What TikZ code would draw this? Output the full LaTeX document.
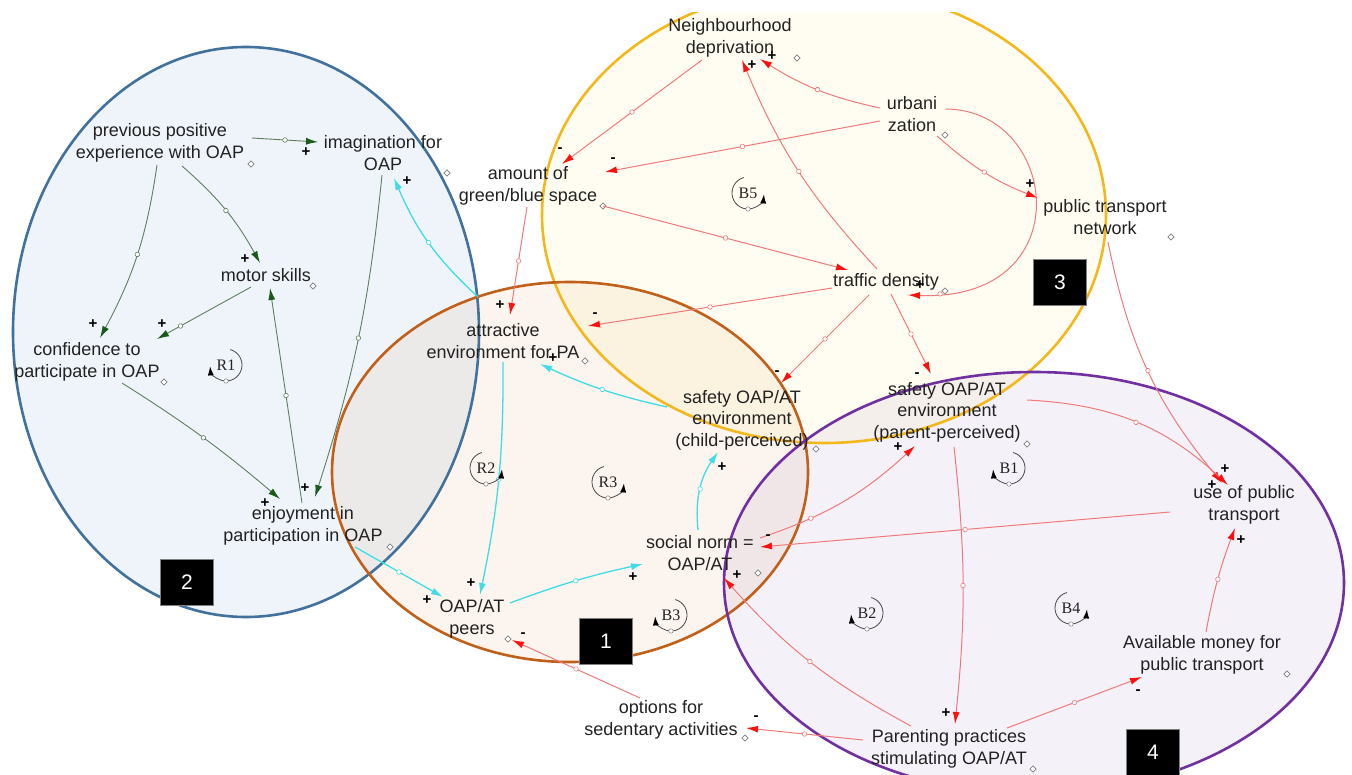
\documentclass[tikz,border=0pt]{standalone}
\usepackage{fontspec}
\setmainfont{Liberation Sans}
\newfontfamily\loopfont{Liberation Serif}
\usetikzlibrary{arrows.meta,shapes.geometric,decorations.markings}
\definecolor{txt}{HTML}{222222}
\definecolor{fillB}{HTML}{EFF4FA}
\definecolor{fillO}{HTML}{FCF4EE}
\definecolor{fillY}{HTML}{FFFDF1}
\definecolor{fillP}{HTML}{F4F1F8}
\definecolor{edgeB}{HTML}{41719C}
\definecolor{edgeO}{HTML}{C0601A}
\definecolor{edgeY}{HTML}{F2B81C}
\definecolor{edgeP}{HTML}{7030A0}
\definecolor{glink}{HTML}{5E7F5E}
\definecolor{ghead}{HTML}{1B5A1B}
\definecolor{clink}{HTML}{40DDE6}
\definecolor{rlink}{HTML}{F07A7A}
\definecolor{rhead}{HTML}{FF1010}
\newcommand\lpsym[4]{%
  \node[looplab] (#1) at (#2) {#3};
  \ifx r#4
    \draw[loopline] ([shift={(255:16)}]#1.center) arc[start angle=255,end angle=5,radius=16];
  \else
    \draw[loopline] ([shift={(285:16)}]#1.center) arc[start angle=285,end angle=535,radius=16];
  \fi
  \draw[gray, fill=white, line width=0.5pt] ([shift={(90:16)}]#1.center) circle (2.2pt);
}
\tikzset{
  var/.style={align=center, font=\fontsize{18}{21.5}\selectfont, text=txt, inner sep=1pt},
  sgn/.style={font=\fontsize{15}{15}\selectfont\bfseries, text=black, inner sep=0pt},
  dmd/.style={diamond, draw=gray, fill=white, inner sep=0pt, minimum size=6.5pt, line width=0.6pt},
  numbox/.style={fill=black, draw=gray, text=white, minimum width=53pt, minimum height=46pt, font=\fontsize{21}{21}\selectfont, inner sep=0pt},
  looplab/.style={font=\loopfont\fontsize{16}{16}\selectfont, text=txt, inner sep=0pt},
  loopline/.style={draw=black!70, line width=0.8pt, -{Latex[length=9pt,width=6pt,color=black]}},
  mkG/.style={postaction={decorate,decoration={markings,mark=at position #1 with {\draw[glink,fill=white,line width=0.6pt] (0,0) circle (2.3pt);}}}},
  mkG/.default=0.5,
  mkC/.style={postaction={decorate,decoration={markings,mark=at position #1 with {\draw[clink,fill=white,line width=0.6pt] (0,0) circle (2.3pt);}}}},
  mkC/.default=0.5,
  mkR/.style={postaction={decorate,decoration={markings,mark=at position #1 with {\draw[rlink,fill=white,line width=0.6pt] (0,0) circle (2.3pt);}}}},
  mkR/.default=0.5,
  grn/.style={draw=glink, line width=0.9pt, -{Latex[length=12pt,width=7pt,color=ghead]}},
  cyn/.style={draw=clink, line width=1.3pt, -{Latex[length=12pt,width=7pt,color=clink]}},
  red/.style={draw=rlink, line width=1pt, -{Latex[length=12pt,width=7pt,color=rhead]}},
}
\begin{document}
\begin{tikzpicture}[x=1pt,y=-1pt]
\useasboundingbox[fill=white] (0,0) rectangle (1352,775);
% ---------- regions ----------
\begin{scope}
  \clip (0,13) rectangle (1352,775);
  \begin{scope}[blend mode=multiply]
    \fill[fillB] (246,332) ellipse [x radius=233, y radius=285];
    \fill[fillY] (824,215) ellipse [x radius=282, y radius=228];
    \fill[fillO] (570,472) ellipse [x radius=238, y radius=190];
    \fill[fillP] (1034,583) ellipse [x radius=310, y radius=211];
  \end{scope}
  \draw[edgeB, line width=2.6pt] (246,332) ellipse [x radius=233, y radius=285];
  \draw[edgeY, line width=2.6pt] (824,215) ellipse [x radius=282, y radius=228];
  \draw[edgeO, line width=2.6pt] (570,472) ellipse [x radius=238, y radius=190];
  \draw[edgeP, line width=2.6pt] (1034,583) ellipse [x radius=310, y radius=211];
\end{scope}
% ---------- number boxes ----------
\node[numbox] (box1) at (606,641) {1};
\node[numbox] (box2) at (187,582) {2};
\node[numbox] (box3) at (1060,282) {3};
\node[numbox] (box4) at (1153,752) {4};
% ---------- variables ----------
\node[var] (prev) at (160,143) {previous positive\\experience with OAP};
\node[var] (imag) at (383,153) {imagination for\\OAP};
\node[var] (motor) at (266,275) {motor skills};
\node[var] (conf) at (87,362) {confidence to\\participate in OAP};
\node[var] (enjoy) at (303,526) {enjoyment in\\participation in OAP};
\node[var] (amount) at (528,186) {amount of\\green/blue space};
\node[var] (neigh) at (730,38) {Neighbourhood\\deprivation};
\node[var] (urban) at (912,114) {urbani\\zation};
\node[var] (ptn) at (1105,217) {public transport\\network};
\node[var] (traffic) at (886,282) {traffic density};
\node[var] (attr) at (503,341) {attractive\\environment for PA};
\node[var] (safec) at (742,420) {safety OAP/AT\\environment\\(child-perceived)};
\node[var] (safep) at (947,412) {safety OAP/AT\\environment\\(parent-perceived)};
\node[var] (usept) at (1244,505) {use of public\\transport};
\node[var] (social) at (700,553) {social norm =\\OAP/AT};
\node[var] (peers) at (472,619) {OAP/AT\\peers};
\node[var] (options) at (661,720) {options for\\sedentary activities};
\node[var] (parent) at (949,749) {Parenting practices\\stimulating OAP/AT};
\node[var] (money) at (1202,655) {Available money for\\public transport};
% ---------- small diamonds ----------
\node[dmd] (d1) at (251,164) {};
\node[dmd] (d2) at (447,173) {};
\node[dmd] (d3) at (313,286) {};
\node[dmd] (d4) at (164,382) {};
\node[dmd] (d5) at (390,547) {};
\node[dmd] (d6) at (603,206) {};
\node[dmd] (d7) at (797,58) {};
\node[dmd] (d8) at (945,135) {};
\node[dmd] (d9) at (1171,237) {};
\node[dmd] (d10) at (945,291) {};
\node[dmd] (d11) at (585,361) {};
\node[dmd] (d12) at (816,449) {};
\node[dmd] (d13) at (1027,444) {};
\node[dmd] (d14) at (758,573) {};
\node[dmd] (d15) at (508,639) {};
\node[dmd] (d16) at (745,738) {};
\node[dmd] (d17) at (1033,769) {};
\node[dmd] (d18) at (1287,674) {};
% ---------- green links ----------
\draw[grn, mkG] ([shift={(92,-5)}]prev.center) -- ([shift={(-65,-11)}]imag.center);
\draw[grn, mkG] ([shift={(-3,22)}]prev.center) to[bend left=10] ([shift={(13,-24)}]conf.center);
\draw[grn, mkG] ([shift={(22,23)}]prev.center) to[bend left=10] ([shift={(-6,-12)}]motor.center);
\draw[grn, mkG=0.75] ([shift={(-15,12)}]motor.center) -- ([shift={(70,-23)}]conf.center);
\draw[grn, mkG] ([shift={(-1,-23)}]enjoy.center) -- ([shift={(4,13)}]motor.center);
\draw[grn, mkG] ([shift={(-1,22)}]imag.center) to[bend left=6] ([shift={(12,-29)}]enjoy.center);
\draw[grn, mkG] ([shift={(35,21)}]conf.center) to[bend left=4] ([shift={(-23,-27)}]enjoy.center);
% ---------- cyan links ----------
\draw[cyn, mkC] ([shift={(-25,-44)}]attr.center) to[bend left=12] ([shift={(11,25)}]imag.center);
\draw[cyn, mkC] ([shift={(0,21)}]attr.center) to[bend left=6] ([shift={(8,-24)}]peers.center);
\draw[cyn, mkC] ([shift={(52,21)}]enjoy.center) -- ([shift={(-29,-22)}]peers.center);
\draw[cyn, mkC] ([shift={(38,-16)}]peers.center) to[bend left=4] ([shift={(-57,11)}]social.center);
\draw[cyn, mkC] ([shift={(-2,-23)}]social.center) to[bend left=20] ([shift={(-24,32)}]safec.center);
\draw[cyn, mkC] ([shift={(-75,-13)}]safec.center) to[bend left=6] ([shift={(37,23)}]attr.center);
% ---------- red links ----------
\draw[red, mkR] ([shift={(-28,22)}]neigh.center) -- ([shift={(34,-22)}]amount.center);
\draw[red, mkR] ([shift={(-32,7)}]urban.center) -- ([shift={(77,-14)}]amount.center);
\draw[red, mkR] ([shift={(-32,-6)}]urban.center) to[bend left=10] ([shift={(30,21)}]neigh.center);
\draw[red, mkR] ([shift={(-9,-13)}]traffic.center) to[bend left=10] ([shift={(12,22)}]neigh.center);
\draw[red, mkR] ([shift={(25,22)}]urban.center) to[bend right=10] ([shift={(-67,-19)}]ptn.center);
\draw[red, mkR=0.9] ([shift={(34,-5)}]urban.center) .. controls +(114,1) and +(174,7) .. ([shift={(22,13)}]traffic.center);
\draw[red, mkR] ([shift={(75,20)}]amount.center) -- ([shift={(-38,-12)}]traffic.center);
\draw[red, mkR] ([shift={(-1,21)}]amount.center) -- ([shift={(7,-26)}]attr.center);
\draw[red, mkR] ([shift={(-54,6)}]traffic.center) -- ([shift={(85,-15)}]attr.center);
\draw[red, mkR] ([shift={(-17,13)}]traffic.center) -- ([shift={(39,-37)}]safec.center);
\draw[red, mkR] ([shift={(5,12)}]traffic.center) -- ([shift={(-16,-38)}]safep.center);
\draw[red, mkR] ([shift={(3,25)}]ptn.center) to[bend right=14] ([shift={(-22,-22)}]usept.center);
\draw[red, mkR] ([shift={(80,-12)}]safep.center) to[bend left=20] ([shift={(-16,-20)}]usept.center);
\draw[red, mkR] ([shift={(-74,7)}]usept.center) -- ([shift={(60,-6)}]social.center);
\draw[red, mkR=0.3] ([shift={(60,-15)}]social.center) to[bend right=12] ([shift={(-32,34)}]safep.center);
\draw[red, mkR] ([shift={(7,35)}]safep.center) to[bend left=6] ([shift={(6,-25)}]parent.center);
\draw[red, mkR] ([shift={(-38,-23)}]parent.center) to[bend left=10] ([shift={(24,25)}]social.center);
\draw[red, mkR] ([shift={(-86,-9)}]parent.center) -- ([shift={(85,8)}]options.center);
\draw[red, mkR] ([shift={(-21,-22)}]options.center) -- ([shift={(40,21)}]peers.center);
\draw[red, mkR] ([shift={(58,-21)}]parent.center) -- ([shift={(-60,22)}]money.center);
\draw[red, mkR] ([shift={(4,-23)}]money.center) to[bend left=5] ([shift={(-9,23)}]usept.center);
% ---------- polarity signs ----------
\node[sgn] (s1) at (306,152) {+};
\node[sgn] (s2) at (93,324) {+};
\node[sgn] (s3) at (245,259) {+};
\node[sgn] (s4) at (162,324) {+};
\node[sgn] (s5) at (305,488) {+};
\node[sgn] (s6) at (265,503) {+};
\node[sgn] (s7) at (407,181) {+};
\node[sgn] (s8) at (471,583) {+};
\node[sgn] (s9) at (427,600) {+};
\node[sgn] (s10) at (633,577) {+};
\node[sgn] (s11) at (722,467) {+};
\node[sgn] (s12) at (553,358) {+};
\node[sgn] (s13) at (560,150) {-};
\node[sgn] (s14) at (613,160) {-};
\node[sgn] (s15) at (772,56) {+};
\node[sgn] (s16) at (752,65) {+};
\node[sgn] (s17) at (1030,184) {+};
\node[sgn] (s18) at (920,285) {+};
\node[sgn] (s19) at (500,305) {+};
\node[sgn] (s20) at (595,315) {-};
\node[sgn] (s21) at (777,373) {-};
\node[sgn] (s22) at (917,375) {-};
\node[sgn] (s23) at (1225,469) {+};
\node[sgn] (s24) at (1212,485) {+};
\node[sgn] (s25) at (768,537) {-};
\node[sgn] (s26) at (898,447) {+};
\node[sgn] (s27) at (946,713) {+};
\node[sgn] (s28) at (737,575) {+};
\node[sgn] (s29) at (756,718) {-};
\node[sgn] (s30) at (523,635) {-};
\node[sgn] (s31) at (1138,692) {-};
\node[sgn] (s32) at (1241,540) {+};
% ---------- loop symbols ----------
\lpsym{R1}{226,365}{R1}{l}
\lpsym{R2}{486,468}{R2}{r}
\lpsym{R3}{608,482}{R3}{r}
\lpsym{B3}{671,615}{B3}{l}
\lpsym{B5}{748,193}{B5}{r}
\lpsym{B1}{1009,468}{B1}{l}
\lpsym{B2}{867,613}{B2}{l}
\lpsym{B4}{1071,608}{B4}{r}
\end{tikzpicture}
\end{document}
